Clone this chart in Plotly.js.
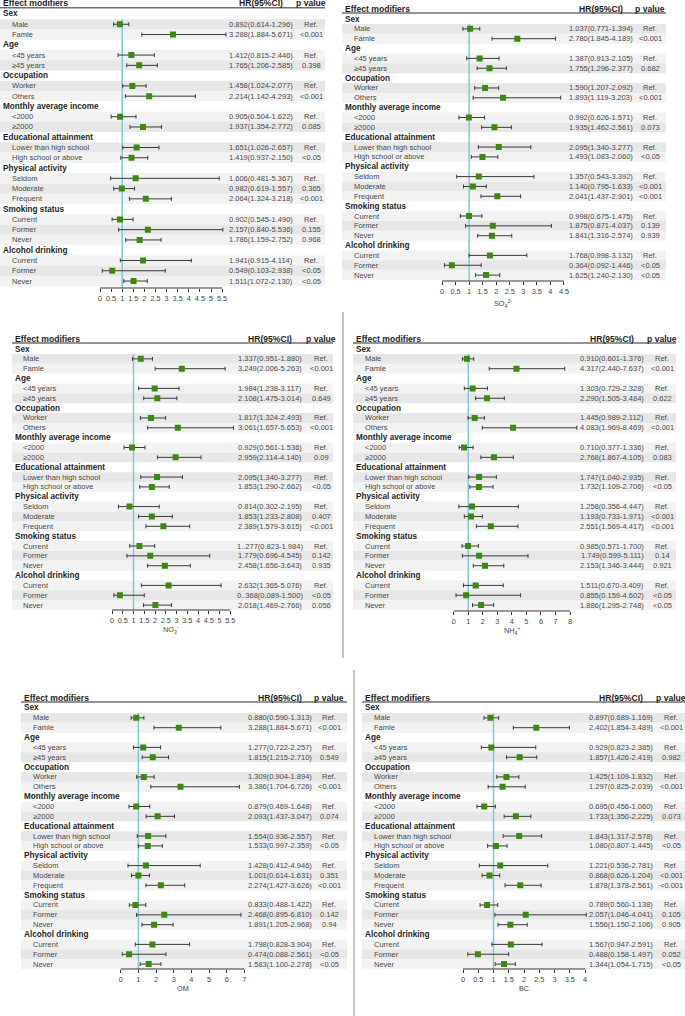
<!DOCTYPE html>
<html>
<head>
<meta charset="utf-8">
<script src="https://cdn.plot.ly/plotly-3.0.1.min.js"></script>
<style>
  html, body { margin: 0; padding: 0; background: #fff; }
  #chart { width: 685px; height: 1016px; }
</style>
</head>
<body>
<div id="chart"></div>
<script>
// Row structure shared by the six tables
const GROUPS = ['Sex', 'Age', 'Occupation', 'Monthly average income', 'Educational attainment',
    'Physical activity', 'Smoking status', 'Alcohol drinking'];
const SUBGROUPS = [
    ['Male', 'Famle'], ['<45 years', '≥45 years'], ['Worker', 'Others'], ['<2000', '≥2000'],
    ['Lower than high school', 'High school or above'], ['Seldom', 'Moderate', 'Frequent'],
    ['Current', 'Former', 'Never'], ['Current', 'Former', 'Never'],
];

// Top-left panel (axis title cut off in the source)
const pmEst = [0.892, 3.288, 1.412, 1.765, 1.458, 2.214, 0.905, 1.937, 1.651, 1.419, 1.606, 0.982, 2.064, 0.902, 2.157, 1.786, 1.941, 0.549, 1.511];
const pmLo  = [0.614, 1.884, 0.815, 1.206, 1.024, 1.142, 0.504, 1.354, 1.026, 0.937, 0.481, 0.619, 1.324, 0.545, 0.840, 1.159, 0.915, 0.103, 1.072];
const pmHi  = [1.296, 5.671, 2.446, 2.585, 2.077, 4.293, 1.622, 2.772, 2.657, 2.150, 5.367, 1.557, 3.218, 1.490, 5.536, 2.752, 4.114, 2.938, 2.130];
const pmCI = ['0.892(0.614-1.296)', '3.288(1.884-5.671)', '1.412(0.815-2.446)', '1.765(1.206-2.585)', '1.458(1.024-2.077)',
    '2.214(1.142-4.293)', '0.905(0.504-1.622)', '1.937(1.354-2.772)', '1.651(1.026-2.657)', '1.419(0.937-2.150)',
    '1.606(0.481-5.367)', '0.982(0.619-1.557)', '2.064(1.324-3.218)', '0.902(0.545-1.490)', '2.157(0.840-5.536)',
    '1.786(1.159-2.752)', '1.941(0.915-4.114)', '0.549(0.103-2.938)', '1.511(1.072-2.130)'];
const pmP = ['Ref.', '<0.001', 'Ref.', '0.398', 'Ref.', '<0.001', 'Ref.', '0.085', 'Ref.', '<0.05',
    'Ref.', '0.365', '<0.001', 'Ref.', '0.155', '0.968', 'Ref.', '<0.05', '<0.05'];
const pmTicks = [0, 0.5, 1, 1.5, 2, 2.5, 3, 3.5, 4, 4.5, 5, 5.5];

// SO4 (the "Others" mark is drawn where the picture puts it, not where its text says)
const so4Est = [1.037, 2.780, 1.387, 1.755, 1.590, 2.25, 0.992, 1.935, 2.095, 1.493, 1.357, 1.140, 2.041, 0.998, 1.875, 1.841, 1.768, 0.364, 1.625];
const so4Lo  = [0.771, 1.845, 0.913, 1.296, 1.207, 1.15, 0.626, 1.462, 1.340, 1.083, 0.543, 0.795, 1.437, 0.675, 0.871, 1.316, 0.998, 0.092, 1.240];
const so4Hi  = [1.394, 4.189, 2.105, 2.377, 2.092, 4.38, 1.571, 2.561, 3.277, 2.060, 3.392, 1.633, 2.901, 1.475, 4.037, 2.574, 3.132, 1.446, 2.130];
const so4CI = ['1.037(0.771-1.394)', '2.780(1.845-4.189)', '1.387(0.913-2.105)', '1.755(1.296-2.377)', '1.590(1.207-2.092)',
    '1.893(1.119-3.203)', '0.992(0.626-1.571)', '1.935(1.462-2.561)', '2.095(1.340-3.277)', '1.493(1.083-2.060)',
    '1.357(0.543-3.392)', '1.140(0.795-1.633)', '2.041(1.437-2.901)', '0.998(0.675-1.475)', '1.875(0.871-4.037)',
    '1.841(1.316-2.574)', '1.768(0.998-3.132)', '0.364(0.092-1.446)', '1.625(1.240-2.130)'];
const so4P = ['Ref.', '<0.001', 'Ref.', '0.682', 'Ref.', '<0.001', 'Ref.', '0.073', 'Ref.', '<0.05',
    'Ref.', '<0.001', '<0.001', 'Ref.', '0.139', '0.939', 'Ref.', '<0.05', '<0.05'];
const so4Ticks = [0, 0.5, 1, 1.5, 2, 2.5, 3, 3.5, 4, 4.5];

// NO3
const no3Est = [1.337, 3.249, 1.984, 2.108, 1.817, 3.061, 0.929, 2.959, 2.095, 1.853, 0.814, 1.853, 2.389, 1.277, 1.779, 2.458, 2.632, 0.368, 2.018];
const no3Lo  = [0.951, 2.006, 1.238, 1.475, 1.324, 1.657, 0.561, 2.114, 1.340, 1.290, 0.302, 1.233, 1.579, 0.823, 0.696, 1.656, 1.365, 0.089, 1.469];
const no3Hi  = [1.880, 5.263, 3.117, 3.014, 2.493, 5.653, 1.536, 4.140, 3.277, 2.662, 2.195, 2.808, 3.615, 1.984, 4.545, 3.643, 5.076, 1.500, 2.766];
const no3CI = ['1.337(0.951-1.880)', '3.249(2.006-5.263)', '1.984(1.238-3.117)', '2.108(1.475-3.014)', '1.817(1.324-2.493)',
    '3.061(1.657-5.653)', '0.929(0.561-1.536)', '2.959(2.114-4.140)', '2.095(1.340-3.277)', '1.853(1.290-2.662)',
    '0.814(0.302-2.195)', '1.853(1.233-2.808)', '2.389(1.579-3.615)', '1..277(0.823-1.984)', '1.779(0.696-4.545)',
    '2.458(1.656-3.643)', '2.632(1.365-5.076)', '0..368(0.089-1.500)', '2.018(1.469-2.766)'];
const no3P = ['Ref.', '<0.001', 'Ref.', '0.649', 'Ref.', '<0.001', 'Ref.', '0.09', 'Ref.', '<0.05',
    'Ref.', '0.407', '<0.001', 'Ref.', '0.142', '0.935', 'Ref.', '<0.05', '0.056'];
const no3Ticks = [0, 0.5, 1, 1.5, 2, 2.5, 3, 3.5, 4, 4.5, 5, 5.5];

// NH4
const nh4Est = [0.910, 4.317, 1.303, 2.290, 1.445, 4.083, 0.710, 2.768, 1.747, 1.732, 1.258, 1.193, 2.551, 0.985, 1.749, 2.153, 1.511, 0.855, 1.886];
const nh4Lo  = [0.601, 2.440, 0.729, 1.505, 0.989, 1.969, 0.377, 1.867, 1.040, 1.109, 0.356, 0.733, 1.569, 0.571, 0.599, 1.346, 0.670, 0.159, 1.295];
const nh4Hi  = [1.376, 7.637, 2.328, 3.484, 2.112, 8.469, 1.336, 4.105, 2.935, 2.706, 4.447, 1.971, 4.417, 1.700, 5.111, 3.444, 3.409, 4.602, 2.748];
const nh4CI = ['0.910(0.601-1.376)', '4.317(2.440-7.637)', '1.303(0.729-2.328)', '2.290(1.505-3.484)', '1.445(0.989-2.112)',
    '4.083(1.969-8.469)', '0.710(0.377-1.336)', '2.768(1.867-4.105)', '1.747(1.040-2.935)', '1.732(1.109-2.706)',
    '1.258(0.356-4.447)', '1.193(0.733-1.971)', '2.551(1.569-4.417)', '0.985(0.571-1.700)', '1.749(0.599-5.111)',
    '2.153(1.346-3.444)', '1.511(0.670-3.409)', '0.855(0.159-4.602)', '1.886(1.295-2.748)'];
const nh4P = ['Ref.', '<0.001', 'Ref.', '0.622', 'Ref.', '<0.001', 'Ref.', '0.083', 'Ref.', '<0.05',
    'Ref.', '<0.001', '<0.001', 'Ref.', '0.14', '0.921', 'Ref.', '<0.05', '<0.05'];
const nh4Ticks = [0, 1, 2, 3, 4, 5, 6, 7, 8];

// OM
const omEst = [0.880, 3.288, 1.277, 1.815, 1.309, 3.386, 0.879, 2.093, 1.554, 1.533, 1.428, 1.001, 2.274, 0.833, 2.468, 1.891, 1.798, 0.474, 1.583];
const omLo  = [0.590, 1.884, 0.722, 1.215, 0.904, 1.704, 0.469, 1.437, 0.936, 0.997, 0.412, 0.614, 1.427, 0.488, 0.895, 1.205, 0.828, 0.088, 1.100];
const omHi  = [1.313, 5.671, 2.257, 2.710, 1.894, 6.726, 1.648, 3.047, 2.557, 2.359, 4.5, 1.631, 3.626, 1.422, 6.810, 2.968, 3.904, 2.561, 2.278];
const omCI = ['0.880(0.590-1.313)', '3.288(1.884-5.671)', '1.277(0.722-2.257)', '1.815(1.215-2.710)', '1.309(0.904-1.894)',
    '3.386(1.704-6.726)', '0.879(0.469-1.648)', '2.093(1.437-3.047)', '1.554(0.936-2.557)', '1.533(0.997-2.359)',
    '1.428(0.412-4.946)', '1.001(0.614-1.631)', '2.274(1.427-3.626)', '0.833(0.488-1.422)', '2.468(0.895-6.810)',
    '1.891(1.205-2.968)', '1.798(0.828-3.904)', '0.474(0.088-2.561)', '1.583(1.100-2.278)'];
const omP = ['Ref.', '<0.001', 'Ref.', '0.549', 'Ref.', '<0.001', 'Ref.', '0.074', 'Ref.', '<0.05',
    'Ref.', '0.351', '<0.001', 'Ref.', '0.142', '0.94', 'Ref.', '<0.05', '<0.05'];
const omTicks = [0, 1, 2, 3, 4, 5, 6, 7];

// BC
const bcEst = [0.897, 2.402, 0.929, 1.857, 1.425, 1.297, 0.695, 1.733, 1.843, 1.080, 1.221, 0.868, 1.878, 0.789, 2.057, 1.556, 1.567, 0.488, 1.344];
const bcLo  = [0.689, 1.65, 0.6, 1.426, 1.109, 0.825, 0.456, 1.350, 1.317, 0.807, 0.536, 0.626, 1.378, 0.560, 1.046, 1.150, 0.947, 0.158, 1.054];
const bcHi  = [1.169, 3.489, 2.385, 2.419, 1.832, 2.039, 1.060, 2.225, 2.578, 1.445, 2.781, 1.204, 2.561, 1.138, 4.041, 2.106, 2.591, 1.497, 1.715];
const bcCI = ['0.897(0.689-1.169)', '2.402(1.854-3.489)', '0.929(0.823-2.385)', '1.857(1.426-2.419)', '1.425(1.109-1.832)',
    '1.297(0.825-2.039)', '0.695(0.456-1.060)', '1.733(1.350-2.225)', '1.843(1.317-2.578)', '1.080(0.807-1.445)',
    '1.221(0.536-2.781)', '0.868(0.626-1.204)', '1.878(1.378-2.561)', '0.789(0.560-1.138)', '2.057(1.046-4.041)',
    '1.556(1.150-2.106)', '1.567(0.947-2.591)', '0.488(0.158-1.497)', '1.344(1.054-1.715)'];
const bcP = ['Ref.', '<0.001', 'Ref.', '0.982', 'Ref.', '<0.001', 'Ref.', '0.073', 'Ref.', '<0.05',
    'Ref.', '<0.001', '<0.001', 'Ref.', '0.105', '0.905', 'Ref.', '0.052', '<0.05'];
const bcTicks = [0, 0.5, 1, 1.5, 2, 2.5, 3, 3.5, 4];

// Where each table sits on the page (pixels)
const PANELS = [
    { est: pmEst, lo: pmLo, hi: pmHi, ci: pmCI, p: pmP, ticks: pmTicks, title: '', titleY: 0,
      left: 1, sub: 10, top: 14, row: 10.27, zero: 100, ppu: 22.2, hrX: 261, pX: 311, right: 325, axis: 288 },
    { est: so4Est, lo: so4Lo, hi: so4Hi, ci: so4CI, p: so4P, ticks: so4Ticks, title: 'SO<sub>4</sub><sup>2-</sup>', titleY: 303,
      left: 343, sub: 352, top: 19, row: 9.85, zero: 442, ppu: 27.1, hrX: 601, pX: 650, right: 666, axis: 281 },
    { est: no3Est, lo: no3Lo, hi: no3Hi, ci: no3CI, p: no3P, ticks: no3Ticks, title: 'NO<sub>3</sub><sup>-</sup>', titleY: 629,
      left: 13, sub: 21, top: 349, row: 9.85, zero: 112, ppu: 21.5, hrX: 270, pX: 321, right: 333, axis: 610 },
    { est: nh4Est, lo: nh4Lo, hi: nh4Hi, ci: nh4CI, p: nh4P, ticks: nh4Ticks, title: 'NH<sub>4</sub><sup>+</sup>', titleY: 630,
      left: 354, sub: 363, top: 349, row: 9.85, zero: 453.7, ppu: 14.54, hrX: 612, pX: 662, right: 676, axis: 611 },
    { est: omEst, lo: omLo, hi: omHi, ci: omCI, p: omP, ticks: omTicks, title: 'OM', titleY: 988,
      left: 22, sub: 31, top: 708, row: 9.85, zero: 120.7, ppu: 17.66, hrX: 280, pX: 329, right: 347, axis: 969 },
    { est: bcEst, lo: bcLo, hi: bcHi, ci: bcCI, p: bcP, ticks: bcTicks, title: 'BC', titleY: 988,
      left: 363, sub: 372, top: 708, row: 9.85, zero: 463, ppu: 30.5, hrX: 621, pX: 671, right: 685, axis: 969 },
];

const W = 685, H = 1016;
const FONT = 'Liberation Sans, Arial, Helvetica, sans-serif';
const SUB_FONT = { family: FONT, size: 7.5, color: '#4a4a4a' };
const GROUP_FONT = { family: FONT, size: 8.2, color: '#1e1e1e', weight: 'bold' };
const HEAD_FONT = { family: FONT, size: 8.6, color: '#1e1e1e', weight: 'bold' };

const px = x => x / W;
const py = y => 1 - y / H;
const esc = s => s.replace(/</g, '&lt;').replace(/>/g, '&gt;');

const traces = [];
const shapes = [];
const annotations = [];
const layout = {
    width: W,
    height: H,
    margin: { l: 0, r: 0, t: 0, b: 0 },
    paper_bgcolor: '#ffffff',
    plot_bgcolor: 'rgba(0,0,0,0)',
    showlegend: false,
    font: { family: FONT, color: '#333' },
};

PANELS.forEach((p, i) => {
    const n = i === 0 ? '' : String(i + 1);
    const xa = 'x' + n, ya = 'y' + n;

    // table rows: group header followed by its levels
    const rows = [];
    let k = 0;
    GROUPS.forEach((g, gi) => {
        rows.push({ label: g, head: true, k: k++ });
        SUBGROUPS[gi].forEach(lbl => rows.push({ label: lbl, head: false, k: k++ }));
    });
    const subRows = rows.filter(r => !r.head);

    const kTop = -1.3;
    const kAxis = (p.axis - p.top) / p.row;
    const tMax = p.ticks[p.ticks.length - 1];
    const xr = [-0.08 * tMax, 1.1 * tMax];

    layout['xaxis' + n] = {
        domain: [px(p.zero + xr[0] * p.ppu), px(p.zero + xr[1] * p.ppu)],
        range: xr,
        anchor: ya,
        tickmode: 'array',
        tickvals: p.ticks,
        ticktext: p.ticks.map(String),
        ticks: 'outside',
        ticklen: 3,
        tickwidth: 1,
        tickcolor: '#333',
        showline: false,
        showgrid: false,
        zeroline: false,
        tickfont: { family: FONT, size: 7.3, color: '#444' },
        fixedrange: true,
    };
    layout['yaxis' + n] = {
        domain: [py(p.axis), py(p.top + kTop * p.row)],
        range: [kAxis, kTop],
        anchor: xa,
        showticklabels: false,
        showgrid: false,
        zeroline: false,
        ticks: '',
        fixedrange: true,
    };

    // row shading for the levels
    subRows.forEach(r => {
        shapes.push({
            type: 'rect', layer: 'below', xref: 'paper', yref: ya,
            x0: px(p.left - 1), x1: px(p.right), y0: r.k - 0.5, y1: r.k + 0.5,
            fillcolor: r.k % 2 ? '#e7e7e7' : '#f2f2f2', line: { width: 0 },
        });
    });

    // header line
    shapes.push({
        type: 'line', xref: 'paper', yref: ya,
        x0: px(p.left - 1), x1: px(p.right), y0: -0.6, y1: -0.6,
        line: { color: '#707070', width: 1.5 },
    });

    // reference line at HR = 1
    shapes.push({
        type: 'line', layer: 'below', xref: xa, yref: ya,
        x0: 1, x1: 1, y0: 0.5, y1: kAxis,
        line: { color: '#80c9d4', width: 1.5 },
    });

    // axis baseline from first to last tick
    shapes.push({
        type: 'line', xref: xa, yref: 'paper',
        x0: p.ticks[0], x1: tMax, y0: py(p.axis), y1: py(p.axis),
        line: { color: '#333', width: 1 },
    });

    // CI bars and point estimates
    traces.push({
        type: 'scatter',
        mode: 'markers',
        xaxis: xa,
        yaxis: ya,
        x: p.est,
        y: subRows.map(r => r.k),
        marker: { symbol: 'square', size: 6, color: '#3b8a0f', line: { width: 0 } },
        error_x: {
            type: 'data',
            symmetric: false,
            array: p.est.map((v, j) => p.hi[j] - v),
            arrayminus: p.est.map((v, j) => v - p.lo[j]),
            color: '#3a3a3a',
            thickness: 1,
            width: 2,
        },
        hoverinfo: 'skip',
    });

    // column headers
    const kHead = -1.05;
    annotations.push(
        { text: 'Effect modifiers', x: px(p.left), xanchor: 'left', font: HEAD_FONT },
        { text: 'HR(95%CI)', x: px(p.hrX), xanchor: 'center', font: HEAD_FONT },
        { text: 'p value', x: px(p.pX), xanchor: 'center', font: HEAD_FONT },
    );
    annotations.slice(-3).forEach(a => Object.assign(a, { xref: 'paper', yref: ya, y: kHead, showarrow: false }));

    // labels
    rows.forEach(r => {
        annotations.push({
            text: esc(r.label), xref: 'paper', yref: ya, showarrow: false,
            x: px(r.head ? p.left : p.sub), y: r.k, xanchor: 'left',
            font: r.head ? GROUP_FONT : SUB_FONT,
        });
    });

    // HR text and p values
    subRows.forEach((r, j) => {
        annotations.push({
            text: p.ci[j], xref: 'paper', yref: ya, showarrow: false,
            x: px(p.hrX), y: r.k, xanchor: 'center', font: SUB_FONT,
        });
        annotations.push({
            text: esc(p.p[j]), xref: 'paper', yref: ya, showarrow: false,
            x: px(p.pX), y: r.k, xanchor: 'center', font: SUB_FONT,
        });
    });

    // axis title
    if (p.title) {
        annotations.push({
            text: p.title, xref: xa, yref: 'paper', showarrow: false,
            x: tMax / 2, y: py(p.titleY), xanchor: 'center', yanchor: 'middle',
            font: { family: FONT, size: 7.3, color: '#444' },
        });
    }
});

// separators between the composed panels
shapes.push(
    { type: 'line', xref: 'paper', yref: 'paper', x0: px(343), x1: px(343), y0: py(312), y1: py(658),
      line: { color: '#c4c4c4', width: 2 } },
    { type: 'line', xref: 'paper', yref: 'paper', x0: px(354), x1: px(354), y0: py(670), y1: py(1016),
      line: { color: '#c4c4c4', width: 2 } },
);

layout.shapes = shapes;
layout.annotations = annotations;

Plotly.newPlot('chart', traces, layout, { displayModeBar: false, responsive: false });
</script>
</body>
</html>
